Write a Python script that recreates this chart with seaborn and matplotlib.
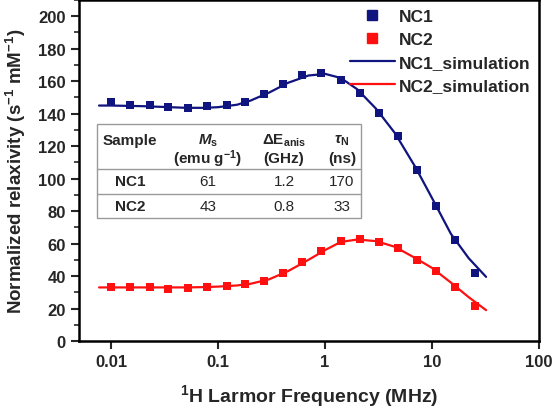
import numpy as np
import pandas as pd
import matplotlib
matplotlib.use('Agg')
import matplotlib.pyplot as plt
import seaborn as sns
from matplotlib.lines import Line2D
from matplotlib.ticker import MultipleLocator

# measured data (1H Larmor frequency in MHz)
freq = [0.01, 0.015, 0.023, 0.034, 0.052, 0.078, 0.12, 0.18, 0.27, 0.40,
        0.61, 0.92, 1.4, 2.1, 3.2, 4.8, 7.2, 11, 16.5, 25]
nc1 = [147.3, 145.6, 145.2, 144.4, 143.4, 144.8, 145.2, 147.3, 152.2, 158.2,
       163.7, 164.9, 160.6, 152.6, 140.7, 126.0, 105.2, 83.3, 62.0, 41.8]
nc2 = [33.0, 33.0, 33.0, 32.0, 32.5, 33.0, 34.0, 35.0, 37.1, 41.8,
       48.8, 55.2, 61.3, 62.8, 60.7, 57.2, 49.8, 43.3, 33.4, 21.5]

# simulation curves
sim_freq = [0.0077, 0.01, 0.02, 0.035, 0.05, 0.075, 0.1, 0.15, 0.2, 0.3, 0.45,
            0.7, 1.0, 1.4, 2.0, 3.0, 4.5, 7.0, 10, 15, 22, 32]
sim_nc1 = [145.0, 145.0, 144.6, 144.0, 143.6, 143.6, 144.0, 145.5, 148.0, 153.0, 159.0,
           163.5, 164.5, 162.0, 155.0, 143.0, 128.0, 107.0, 88.0, 66.0, 51.0, 39.5]
sim_nc2 = [33.0, 33.0, 33.0, 33.0, 33.0, 33.2, 33.5, 34.2, 35.2, 38.0, 43.0,
           50.0, 56.0, 61.0, 62.5, 61.5, 58.0, 51.0, 45.0, 36.0, 27.0, 19.0]

# parameter table
tab_header = [r'Sample', r'$\mathit{M}_\mathregular{s}$', r'$\Delta$E$_\mathregular{anis}$', r'$\mathit{\tau}_\mathregular{N}$']
tab_units = ['', r'(emu g$^\mathregular{-1}$)', '(GHz)', '(ns)']
tab_rows = [['NC1', '61', '1.2', '170'],
            ['NC2', '43', '0.8', '33']]

blue = '#10147e'
red = '#ff1010'

sns.set_style('ticks')
plt.rcParams['font.family'] = ['Liberation Sans', 'DejaVu Sans']
plt.rcParams['font.weight'] = 'bold'
plt.rcParams['axes.labelweight'] = 'bold'
plt.rcParams['mathtext.fontset'] = 'custom'
plt.rcParams['mathtext.rm'] = 'Liberation Sans:bold'
plt.rcParams['mathtext.it'] = 'Liberation Sans:bold:italic'
plt.rcParams['mathtext.bf'] = 'Liberation Sans:bold'

fig = plt.figure(figsize=(5.55, 4.10), dpi=100)
ax = fig.add_axes([79 / 555, 1 - 342 / 410, 460 / 555, 341 / 410])

sns.lineplot(x=sim_freq, y=sim_nc1, color=blue, lw=1.6, ax=ax, zorder=2)
sns.lineplot(x=sim_freq, y=sim_nc2, color=red, lw=1.6, ax=ax, zorder=2)
sns.scatterplot(x=freq, y=nc1, color=blue, marker='s', s=38, linewidth=0, ax=ax, zorder=3)
sns.scatterplot(x=freq, y=nc2, color=red, marker='s', s=38, linewidth=0, ax=ax, zorder=3)

ax.set_xscale('log')
ax.set_xlim(0.005, 100)
ax.set_ylim(0, 210)
ax.set_xticks([0.01, 0.1, 1, 10, 100])
ax.set_xticklabels(['0.01', '0.1', '1', '10', '100'])
ax.xaxis.set_minor_locator(matplotlib.ticker.NullLocator())
ax.set_yticks(range(0, 201, 20))
ax.yaxis.set_minor_locator(MultipleLocator(10))
ax.tick_params(which='major', length=6, width=1.5, labelsize=12, direction='out')
ax.tick_params(which='minor', length=3.5, width=1.2, direction='out')
for sp in ax.spines.values():
    sp.set_linewidth(1.8)
    sp.set_visible(True)
    sp.set_color('black')

ax.set_xlabel(r'$^\mathregular{1}$H Larmor Frequency (MHz)', fontsize=14, fontweight='bold', labelpad=9)
ax.set_ylabel(r'Normalized relaxivity (s$^\mathregular{-1}$ mM$^\mathregular{-1}$)', fontsize=13.5,
              fontweight='bold', labelpad=7)

handles = [
    Line2D([], [], color=blue, marker='s', ls='none', markersize=6.5),
    Line2D([], [], color=red, marker='s', ls='none', markersize=6.5),
    Line2D([], [], color=blue, lw=1.6),
    Line2D([], [], color=red, lw=1.6),
]
ax.legend(handles, ['NC1', 'NC2', 'NC1_simulation', 'NC2_simulation'],
          loc='upper right', bbox_to_anchor=(1.005, 1.005), frameon=False,
          fontsize=12.5, handlelength=2.6, handletextpad=0.25, labelspacing=0.45,
          borderaxespad=0.2)

# table drawn in figure pixel coordinates
def fx(px):
    return px / 555

def fy(py):
    return 1 - py / 410

col_x = [130, 208, 284, 342]
gray = '#9a9a9a'
fig.add_artist(plt.Rectangle((fx(97), fy(219)), fx(361) - fx(97), fy(125) - fy(219),
                             transform=fig.transFigure, fill=True, facecolor='white',
                             edgecolor=gray, lw=1.0, zorder=5))
for yy in [170, 195]:
    fig.add_artist(Line2D([fx(97), fx(361)], [fy(yy), fy(yy)], transform=fig.transFigure,
                          color=gray, lw=1.0, zorder=6))
for cx, h, u in zip(col_x, tab_header, tab_units):
    fig.text(fx(cx), fy(141), h, ha='center', va='center', fontsize=11, zorder=7)
    if u:
        fig.text(fx(cx), fy(159), u, ha='center', va='center', fontsize=11, zorder=7)
for ry, row in zip([182, 207], tab_rows):
    for i, (cx, val) in enumerate(zip(col_x, row)):
        fig.text(fx(cx), fy(ry), val, ha='center', va='center', fontsize=11,
                 fontweight='bold' if i == 0 else 'normal', zorder=7)

fig.savefig('out.png', dpi=100)
